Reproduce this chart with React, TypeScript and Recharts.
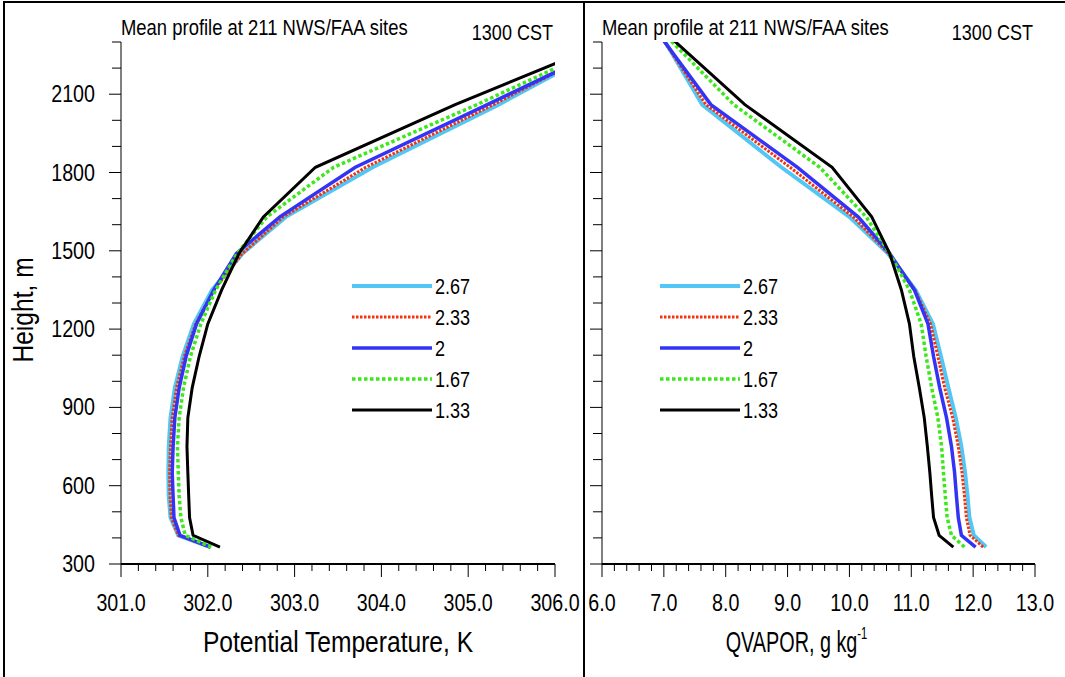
import React from "react";
import { LineChart, Line, XAxis, YAxis, Legend, Label } from "recharts";

// model levels (m) shared by every profile
const heights = [365, 410, 478, 560, 650, 750, 860, 975, 1095, 1220, 1350, 1490, 1630, 1820, 2060, 2330];

// potential temperature, K
const theta267 = [302.03, 301.66, 301.57, 301.55, 301.545, 301.55, 301.57, 301.62, 301.71, 301.84, 302.05, 302.40, 302.90, 303.90, 305.35, 306.86];
const theta233 = [302.03, 301.66, 301.58, 301.565, 301.56, 301.57, 301.59, 301.64, 301.73, 301.86, 302.07, 302.40, 302.87, 303.82, 305.29, 306.86];
const theta200 = [302.03, 301.68, 301.61, 301.60, 301.59, 301.60, 301.62, 301.67, 301.75, 301.87, 302.07, 302.33, 302.83, 303.70, 305.22, 306.92];
const theta167 = [302.04, 301.74, 301.69, 301.67, 301.66, 301.65, 301.67, 301.72, 301.80, 301.92, 302.09, 302.34, 302.68, 303.45, 305.10, 306.85];
const theta133 = [302.14, 301.83, 301.79, 301.78, 301.77, 301.76, 301.77, 301.82, 301.90, 302.00, 302.16, 302.36, 302.64, 303.24, 304.85, 306.83];

// water vapour mixing ratio, g/kg
const qv267 = [12.21, 12.01, 11.94, 11.91, 11.87, 11.81, 11.72, 11.60, 11.48, 11.35, 11.07, 10.62, 10.00, 8.90, 7.62, 6.95];
const qv233 = [12.16, 11.95, 11.89, 11.86, 11.82, 11.76, 11.67, 11.54, 11.43, 11.31, 11.06, 10.63, 10.06, 9.04, 7.68, 6.93];
const qv200 = [12.04, 11.81, 11.76, 11.73, 11.70, 11.65, 11.57, 11.46, 11.36, 11.27, 11.05, 10.65, 10.14, 9.16, 7.76, 6.92];
const qv167 = [11.86, 11.65, 11.58, 11.55, 11.52, 11.49, 11.43, 11.33, 11.24, 11.16, 10.97, 10.65, 10.27, 9.52, 8.13, 7.01];
const qv133 = [11.68, 11.45, 11.36, 11.33, 11.30, 11.26, 11.21, 11.13, 11.04, 10.97, 10.84, 10.65, 10.36, 9.72, 8.31, 7.05];

const seriesNames = ["2.67", "2.33", "2", "1.67", "1.33"];
const thetaSeries = [theta267, theta233, theta200, theta167, theta133];
const qvSeries = [qv267, qv233, qv200, qv167, qv133];

const yMajor = [300, 600, 900, 1200, 1500, 1800, 2100];
const thetaMajor = [301, 302, 303, 304, 305, 306];
const qvMajor = [6, 7, 8, 9, 10, 11, 12, 13];

const styles: Record<string, { color: string; width: number; dash?: string }> = {
  "2.67": { color: "#52c6f4", width: 4 },
  "2.33": { color: "#f4320c", width: 3, dash: "2.5 1.5" },
  "2": { color: "#3333f5", width: 3.5 },
  "1.67": { color: "#3ce81a", width: 3.5, dash: "3.5 2.5" },
  "1.33": { color: "#000000", width: 3 },
};

const FONT = "'Liberation Sans', Arial, sans-serif";
const PLOT_TOP = 42;

// condensed text (the original uses a narrow Helvetica)
const NText = ({ x, y, size, anchor = "start", squeeze = 0.82, rotate = 0, children }: any) => (
  <text
    transform={`translate(${x},${y}) rotate(${rotate}) scale(${squeeze},1)`}
    x={0}
    y={0}
    textAnchor={anchor}
    fontSize={size}
    fontFamily={FONT}
    fill="#000"
  >
    {children}
  </text>
);

// every 0.2 between the labelled ticks
const withMinor = (major: number[], step: number) => {
  const out: number[] = [];
  for (let i = 0; i < major.length - 1; i++) {
    for (let k = 0; k < 5; k++) out.push(Math.round((major[i] + k * step) * 100) / 100);
  }
  out.push(major[major.length - 1]);
  return out;
};
const yTicks = [300, 400, 500, 600, 700, 800, 900, 1000, 1100, 1200, 1300, 1400, 1500, 1600, 1700, 1800, 1900, 2000, 2100, 2200, 2300];

const XTick = (props: any) => {
  const { x, y, payload, major } = props;
  const isMajor = major.some((m: number) => Math.abs(m - payload.value) < 1e-6);
  return (
    <g>
      <line x1={x} x2={x} y1={y} y2={y + (isMajor ? 13 : 7)} stroke="#000" strokeWidth={1} />
      {isMajor && (
        <NText x={x} y={y + 47} size={24} anchor="middle">
          {payload.value.toFixed(1)}
        </NText>
      )}
    </g>
  );
};

const YTick = (props: any) => {
  const { x, y, payload, showLabel } = props;
  const isMajor = yMajor.includes(payload.value);
  return (
    <g>
      <line x1={x} x2={x - (isMajor ? 12 : 9)} y1={y} y2={y} stroke="#000" strokeWidth={1} />
      {isMajor && showLabel && (
        <NText x={x - 26} y={y + 8} size={24} anchor="end">
          {payload.value}
        </NText>
      )}
    </g>
  );
};

const LegendBox = () => (
  <svg width={200} height={150} style={{ overflow: "visible" }}>
    {seriesNames.map((name, i) => {
      const s = styles[name];
      const cy = 10 + i * 31;
      return (
        <g key={name}>
          <line x1={0} x2={80} y1={cy} y2={cy} stroke={s.color} strokeWidth={s.width} strokeDasharray={s.dash} />
          <NText x={83} y={cy + 8} size={22}>
            {name}
          </NText>
        </g>
      );
    })}
  </svg>
);

type PanelProps = {
  values: number[][];
  domain: [number, number];
  major: number[];
  left: number;
  width: number;
  axisWidth: number;
  rightMargin: number;
  showYLabels: boolean;
  legendLeft: number;
  xTitle: React.ReactNode;
  titleShift: number;
  titleSqueeze: number;
};

function Panel(p: PanelProps) {
  const xTicks = withMinor(p.major, 0.2);
  return (
    <div style={{ position: "absolute", left: p.left, top: 0 }}>
      <LineChart width={p.width} height={677} margin={{ top: PLOT_TOP, right: p.rightMargin, bottom: 0, left: 0 }}>
        <XAxis
          xAxisId="top"
          orientation="top"
          type="number"
          domain={p.domain}
          allowDataOverflow
          height={0}
          tick={false}
          tickLine={false}
          axisLine={{ stroke: "#000", strokeWidth: 1 }}
        />
        <XAxis
          type="number"
          dataKey="x"
          domain={p.domain}
          allowDataOverflow
          ticks={xTicks}
          interval={0}
          height={113}
          tickSize={0}
          tickMargin={0}
          tickLine={false}
          axisLine={{ stroke: "#000", strokeWidth: 2 }}
          tick={<XTick major={p.major} />}
        >
          <Label
            content={(lp: any) => {
              const vb = lp.viewBox;
              return (
                <g>
                  <NText x={vb.x + vb.width / 2 + p.titleShift} y={vb.y + 88} size={30} anchor="middle" squeeze={p.titleSqueeze}>
                    {p.xTitle}
                  </NText>
                  <NText x={vb.x} y={PLOT_TOP - 7} size={22.5}>
                    Mean profile at 211 NWS/FAA sites
                  </NText>
                  <NText x={vb.x + vb.width - 2} y={PLOT_TOP - 2} size={22} anchor="end">
                    1300 CST
                  </NText>
                </g>
              );
            }}
          />
        </XAxis>
        <YAxis
          type="number"
          domain={[300, 2300]}
          allowDataOverflow
          ticks={yTicks}
          interval={0}
          width={p.axisWidth}
          tickSize={0}
          tickMargin={0}
          tickLine={false}
          axisLine={{ stroke: "#000", strokeWidth: 1 }}
          tick={<YTick showLabel={p.showYLabels} />}
        >
          {p.showYLabels && (
            <Label
              content={() => (
                <NText x={33} y={310} size={30} anchor="middle" rotate={-90}>
                  Height, m
                </NText>
              )}
            />
          )}
        </YAxis>
        <YAxis
          yAxisId="right"
          orientation="right"
          type="number"
          domain={[300, 2300]}
          width={0}
          tick={false}
          tickLine={false}
          axisLine={{ stroke: "#000", strokeWidth: 1 }}
        />
        {seriesNames.map((name, si) => {
          const s = styles[name];
          return (
            <Line
              key={name}
              name={name}
              data={heights.map((h, i) => ({ h, x: p.values[si][i] }))}
              dataKey="h"
              type="linear"
              stroke={s.color}
              strokeWidth={s.width}
              strokeDasharray={s.dash}
              dot={false}
              activeDot={false}
              isAnimationActive={false}
            />
          );
        })}
        <Legend
          layout="vertical"
          align="center"
          verticalAlign="middle"
          content={<LegendBox />}
          wrapperStyle={{ position: "absolute", left: p.legendLeft, top: 276, width: 200 }}
        />
      </LineChart>
    </div>
  );
}

export default function App() {
  return (
    <div style={{ position: "absolute", left: 0, top: 0, width: 1065, height: 677, background: "#fff", overflow: "hidden" }}>
      <div style={{ position: "absolute", left: 3, top: 1, width: 1065, height: 676, borderLeft: "2px solid #000", borderTop: "2px solid #000" }} />
      <div style={{ position: "absolute", left: 583, top: 1, width: 0, height: 676, borderLeft: "2px solid #000" }} />
      <Panel
        values={thetaSeries}
        domain={[301, 306]}
        major={thetaMajor}
        left={0}
        width={583}
        axisWidth={121}
        rightMargin={28}
        showYLabels
        legendLeft={352}
        xTitle="Potential Temperature, K"
        titleShift={0}
        titleSqueeze={0.82}
      />
      <Panel
        values={qvSeries}
        domain={[6, 13]}
        major={qvMajor}
        left={583}
        width={482}
        axisWidth={19}
        rightMargin={30}
        showYLabels={false}
        legendLeft={77}
        xTitle={
          <>
            QVAPOR, g kg
            <tspan fontSize={17} dy={-13}>-1</tspan>
          </>
        }
        titleShift={-22}
        titleSqueeze={0.66}
      />
    </div>
  );
}
